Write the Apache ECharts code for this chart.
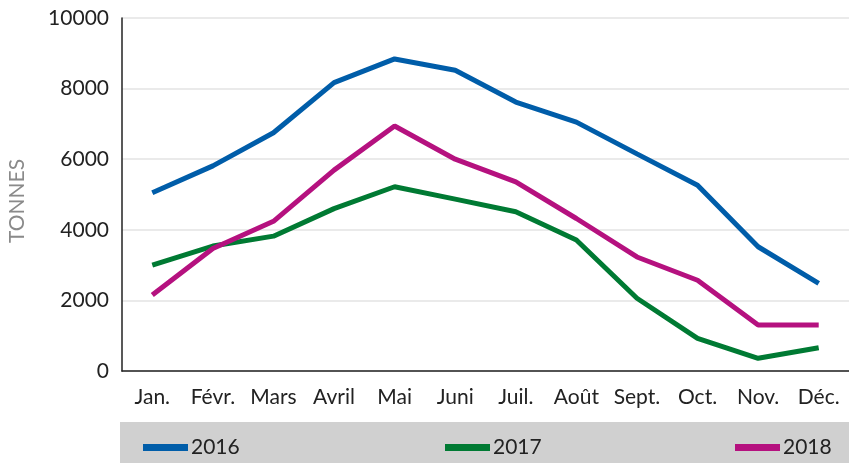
<!DOCTYPE html>
<html>
<head>
<meta charset="utf-8">
<script src="https://cdn.jsdelivr.net/npm/echarts@6/dist/echarts.min.js"></script>
<style>
  html, body { margin: 0; padding: 0; background: #fff; }
</style>
</head>
<body>
<div id="main" style="width: 849px;height:463px;"></div>
<script>
// données
var months = ['Jan.', 'Févr.', 'Mars', 'Avril', 'Mai', 'Juni', 'Juil.', 'Août', 'Sept.', 'Oct.', 'Nov.', 'Déc.'];
var years = ['2016', '2017', '2018'];
var v2016 = [5050, 5810, 6750, 8170, 8840, 8520, 7620, 7050, 6150, 5260, 3520, 2480];
var v2017 = [3000, 3540, 3820, 4600, 5220, 4870, 4510, 3710, 2060, 925, 360, 660];
var v2018 = [2150, 3470, 4240, 5690, 6940, 6000, 5360, 4320, 3230, 2570, 1300, 1300];
var colors = ['#005da9', '#007a33', '#b5117f'];

var font = 'Lato, "Open Sans", sans-serif';
var myChart = echarts.init(document.getElementById('main'));

function legendFor(i, left) {
    return {
        data: [years[i]],
        left: left,
        top: 432,
        icon: 'rect',
        itemWidth: 45,
        itemHeight: 7,
        itemGap: 4,
        textStyle: { fontFamily: font, fontSize: 21, color: '#222', padding: [0, 0, 0, -2] }
    };
}

var option = {
    animation: false,
    color: colors,
    grid: { left: 122, top: 18, width: 730, height: 353 },
    graphic: [{
        type: 'rect',
        left: 120, top: 422,
        shape: { width: 729, height: 41 },
        style: { fill: '#d0d0d0' },
        z: -1
    }, {
        type: 'text',
        x: 17, y: 201,
        rotation: Math.PI / 2,
        style: {
            text: 'TONNES',
            align: 'center',
            verticalAlign: 'middle',
            fontFamily: font,
            fontSize: 21,
            fill: '#8a8a8a'
        }
    }],
    legend: [legendFor(0, 138), legendFor(1, 440), legendFor(2, 730)],
    xAxis: {
        type: 'category',
        data: months,
        boundaryGap: true,
        axisLine: { lineStyle: { color: '#222', width: 1.5 } },
        axisTick: { inside: true, length: 9, lineStyle: { color: '#222', width: 1.5 } },
        axisLabel: { fontFamily: font, fontSize: 21, color: '#222', margin: 16 },
        splitLine: { show: false }
    },
    yAxis: {
        type: 'value',
        min: 0, max: 10000, interval: 2000,
        axisLine: { show: true, lineStyle: { color: '#222', width: 1.5 } },
        axisTick: { show: false },
        axisLabel: {
            fontFamily: font, fontSize: 21, color: '#222', margin: 13,
            formatter: function (v) { return String(v); }
        },
        splitLine: { lineStyle: { color: '#e3e3e3', width: 1.5 } }
    },
    series: [
        { name: years[0], type: 'line', data: v2016, symbol: 'none', lineStyle: { width: 5 } },
        { name: years[1], type: 'line', data: v2017, symbol: 'none', lineStyle: { width: 5 } },
        { name: years[2], type: 'line', data: v2018, symbol: 'none', lineStyle: { width: 5 } }
    ]
};
myChart.setOption(option);
</script>
</body>
</html>
